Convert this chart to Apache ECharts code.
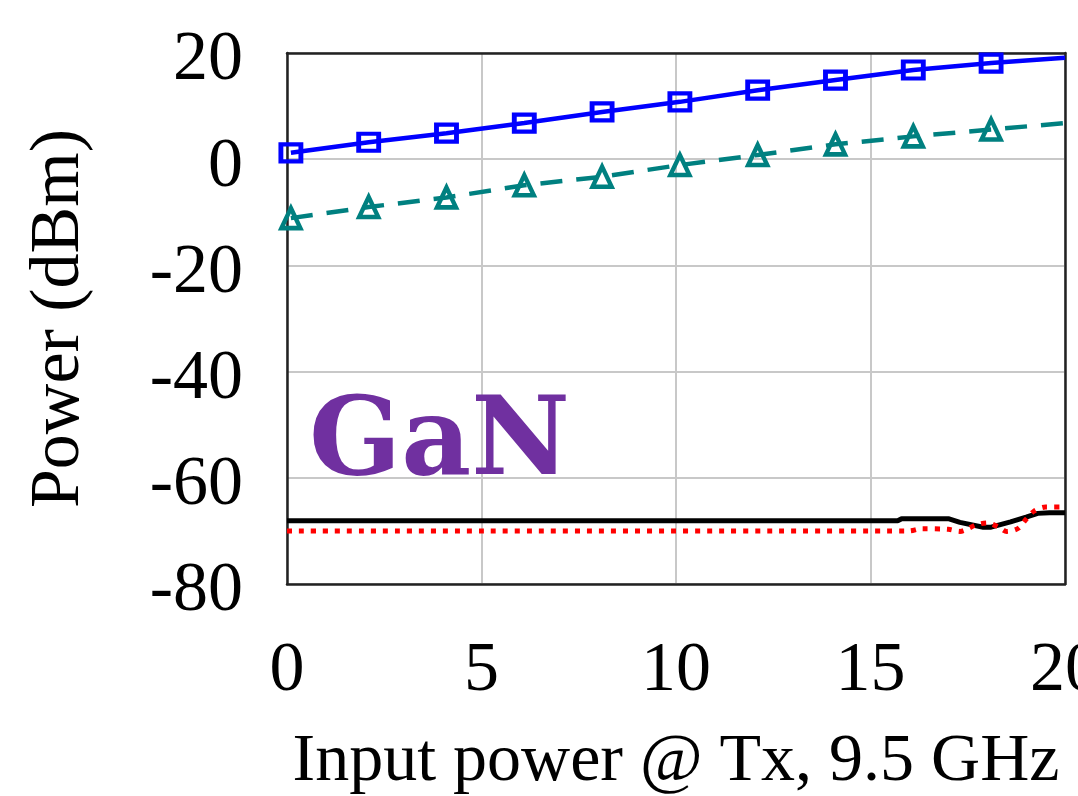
<!DOCTYPE html>
<html>
<head>
<meta charset="utf-8">
<script src="https://cdn.jsdelivr.net/npm/echarts@6/dist/echarts.min.js"></script>
<style>
  html, body { margin: 0; padding: 0; background: #fff; }
  #main { width: 1078px; height: 796px; }
</style>
</head>
<body>
<div id="main"></div>
<script>
// 数据
var markX = [0.1, 2.1, 4.1, 6.1, 8.1, 10.1, 12.1, 14.1, 16.1, 18.1, 20];
var outBlue = [1.2, 3.2, 4.9, 6.8, 8.9, 10.8, 13.0, 14.9, 16.8, 18.1, 19.1];
var outTeal = [-11.1, -9.0, -7.2, -4.9, -3.3, -1.1, 0.8, 2.8, 4.3, 5.6, 6.8];

var blackX = [0, 15.7, 15.8, 17.0, 17.3, 17.9, 18.1, 18.6, 19.0, 19.3, 19.6, 20];
var blackY = [-68.1, -68.1, -67.7, -67.7, -68.4, -69.3, -69.3, -68.3, -67.4, -66.7, -66.6, -66.6];

var redX = [0, 16.0, 16.3, 17.0, 17.3, 17.7, 18.0, 18.3, 18.5, 18.8, 19.0, 19.2, 19.5, 20];
var redY = [-70.0, -70.0, -69.6, -69.7, -70.1, -68.9, -68.5, -69.3, -70.1, -69.5, -67.8, -66.3, -65.5, -65.5];

var xTicks = { min: 0, max: 20, interval: 5 };
var yTicks = { min: -80, max: 20, interval: 20 };

function pairs(xs, ys) {
	return xs.map(function (x, i) { return [x, ys[i]]; });
}

// 最后一个点不画标记
function markedPairs(xs, ys) {
	return xs.map(function (x, i) {
		var item = { value: [x, ys[i]] };
		if (i === xs.length - 1) item.symbol = 'none';
		return item;
	});
}

var serif = '"Liberation Serif", "Times New Roman", serif';
var frame = { show: true, onZero: false, lineStyle: { color: '#222', width: 2.5 } };

var myChart = echarts.init(document.getElementById('main'), null, { renderer: 'canvas' });

var option = {
	animation: false,
	grid: {
		left: 287, right: 13, top: 53, bottom: 212,
		outerBoundsMode: 'none',
		containLabel: false
	},
	xAxis: [{
		type: 'value',
		min: xTicks.min, max: xTicks.max, interval: xTicks.interval,
		name: 'Input power @ Tx, 9.5 GHz',
		nameLocation: 'middle',
		nameGap: 144,
		nameTextStyle: { fontFamily: serif, fontSize: 68, color: '#000' },
		axisLine: frame,
		axisTick: { show: false },
		axisLabel: { fontFamily: serif, fontSize: 70, color: '#000', margin: 53 },
		splitLine: { show: true, lineStyle: { color: '#c8c8c8', width: 2 } }
	}, {
		// 顶部边框
		type: 'value', position: 'top',
		min: xTicks.min, max: xTicks.max, interval: xTicks.interval,
		axisLine: frame, axisTick: { show: false }, axisLabel: { show: false },
		splitLine: { show: false }
	}],
	yAxis: [{
		type: 'value',
		min: yTicks.min, max: yTicks.max, interval: yTicks.interval,
		name: 'Power (dBm)',
		nameLocation: 'middle',
		nameGap: 192,
		nameRotate: 90,
		nameTextStyle: { fontFamily: serif, fontSize: 70, color: '#000' },
		axisLine: frame,
		axisTick: { show: false },
		axisLabel: {
			fontFamily: serif, color: '#000', margin: 44,
			formatter: function (v) { return '{t|' + v + '}'; },
			rich: { t: { fontFamily: serif, fontSize: 70, color: '#000', padding: [16, 0, 0, 0] } }
		},
		splitLine: { show: true, lineStyle: { color: '#c8c8c8', width: 2 } }
	}, {
		// 右侧边框
		type: 'value', position: 'right',
		min: yTicks.min, max: yTicks.max, interval: yTicks.interval,
		axisLine: frame, axisTick: { show: false }, axisLabel: { show: false },
		splitLine: { show: false }
	}],
	graphic: [{
		type: 'text',
		left: 309,
		top: 392,
		z: 100,
		style: {
			text: 'GaN',
			fill: '#7030A0',
			font: 'bold 108px "DejaVu Serif", serif'
		}
	}],
	series: [
		{
			name: 'black',
			type: 'line',
			data: pairs(blackX, blackY),
			symbol: 'none',
			lineStyle: { color: '#000', width: 5 },
			z: 3
		},
		{
			name: 'red',
			type: 'line',
			data: pairs(redX, redY),
			symbol: 'none',
			smooth: 0.3,
			lineStyle: { color: '#ff0000', width: 5, type: [5, 7], cap: 'butt' },
			z: 4
		},
		{
			name: 'teal',
			type: 'line',
			data: markedPairs(markX, outTeal),
			symbol: 'triangle',
			symbolSize: [19, 20],
			showAllSymbol: true,
			lineStyle: { color: '#008080', width: 4.5, type: [22, 14] },
			itemStyle: { color: 'transparent', borderColor: '#008080', borderWidth: 4.5 },
			z: 5
		},
		{
			name: 'blue',
			type: 'line',
			data: markedPairs(markX, outBlue),
			symbol: 'rect',
			symbolSize: [20, 17],
			showAllSymbol: true,
			lineStyle: { color: '#0000ff', width: 4.5 },
			itemStyle: { color: 'transparent', borderColor: '#0000ff', borderWidth: 4.5 },
			z: 6
		}
	]
};

myChart.setOption(option);
</script>
</body>
</html>
